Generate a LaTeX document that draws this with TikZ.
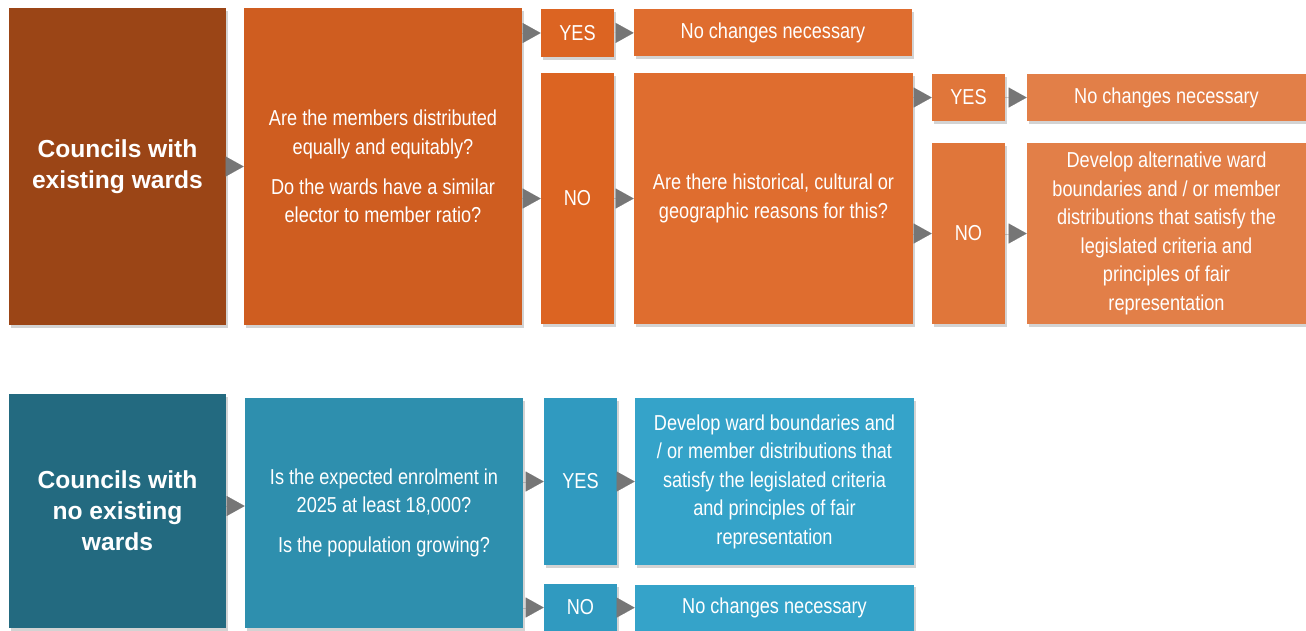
\documentclass[tikz,border=0pt]{standalone}
\usepackage{fontspec}
\setmainfont{Liberation Sans}
\newfontfamily\narrowfont[FakeStretch=0.84]{Liberation Sans}
\usetikzlibrary{arrows.meta}
\usetikzlibrary{shadows}
\usetikzlibrary{positioning}
\definecolor{obrown}{HTML}{9B4516}
\definecolor{oone}{HTML}{CF5D20}
\definecolor{otwo}{HTML}{DC6422}
\definecolor{othree}{HTML}{DF6D2F}
\definecolor{ofour}{HTML}{E0763A}
\definecolor{ofive}{HTML}{E27F48}
\definecolor{bdark}{HTML}{236A80}
\definecolor{bone}{HTML}{2E8FAE}
\definecolor{btwo}{HTML}{309AC0}
\definecolor{bthree}{HTML}{35A3C9}
\definecolor{agray}{HTML}{767676}
\newcommand{\px}{0.02cm}

\begin{document}
\begin{tikzpicture}[x=0.02cm, y=-0.02cm,
    box/.style={fill=#1, text=white, align=center, inner sep=0pt,
      font=\narrowfont\fontsize{12.3}{16.2}\selectfont,
      drop shadow={shadow xshift=1.2pt, shadow yshift=-1.5pt, opacity=0.35}},
    head/.style={font=\bfseries\fontsize{14}{17.6}\selectfont},
    boxsize/.style 2 args={minimum width=#1*\px, minimum height=#2*\px},
    flow/.style={agray, line width=0.01pt, -{Triangle[length=0.36cm, width=0.4cm]}}]
    \useasboundingbox (0, 0) rectangle (1306, 630);

    % councils with existing wards
    \node [box=obrown, head, boxsize={217}{317}] (exist) at (117.5, 166.5) {Councils with\\existing wards};
    \node [box=oone, boxsize={278}{317}] (members) at (383, 166.5)
      {Are the members distributed\\equally and equitably?\\[6.8pt]Do the wards have a similar\\elector to member ratio?};
    \node [box=otwo, boxsize={73}{48}] (yesone) at (577.5, 33) {YES};
    \node [box=otwo, boxsize={73}{251}] (noone) at (577.5, 198.5) {NO};
    \node [box=othree, boxsize={278}{47}] (keepone) at (773, 32.5) {No changes necessary};
    \node [box=othree, boxsize={279}{251}] (reasons) at (773.5, 198.5)
      {Are there historical, cultural or\\geographic reasons for this?};
    \node [box=ofour, boxsize={73}{47}] (yestwo) at (968.5, 97.5) {YES};
    \node [box=ofour, boxsize={73}{181}] (notwo) at (968.5, 233.5) {NO};
    \node [box=ofive, boxsize={279}{47}] (keeptwo) at (1166.5, 97.5) {No changes necessary};
    \node [box=ofive, boxsize={279}{181}] (develop) at (1166.5, 233.5)
      {Develop alternative ward\\boundaries and / or member\\distributions that satisfy the\\legislated criteria and\\principles of fair\\representation};

    \draw [flow] (exist) -- (members);
    \draw [flow] (members.east |- yesone) -- (yesone);
    \draw [flow] (members.east |- noone) -- (noone);
    \draw [flow] (yesone) -- (keepone);
    \draw [flow] (noone) -- (reasons);
    \draw [flow] (reasons.east |- yestwo) -- (yestwo);
    \draw [flow] (reasons.east |- notwo) -- (notwo);
    \draw [flow] (yestwo) -- (keeptwo);
    \draw [flow] (notwo) -- (develop);

    % councils with no existing wards
    \node [box=bdark, head, boxsize={217}{234}] (noexist) at (117.5, 511) {Councils with\\no existing\\wards};
    \node [box=bone, boxsize={278}{230}] (enrol) at (384, 513)
      {Is the expected enrolment in\\2025 at least 18,000?\\[6.5pt]Is the population growing?};
    \node [box=btwo, boxsize={73}{167}] (yesthree) at (580.5, 481.5) {YES};
    \node [box=btwo, boxsize={73}{47}] (nothree) at (580.5, 607.5) {NO};
    \node [box=bthree, boxsize={279}{167}] (wardsnew) at (774.5, 481.5)
      {Develop ward boundaries and\\/ or member distributions that\\satisfy the legislated criteria\\and principles of fair\\representation};
    \node [box=bthree, boxsize={279}{47}] (keepthree) at (774.5, 608) {No changes necessary};

    \draw [flow] (noexist.east |- 0, 506) -- (enrol.west |- 0, 506);
    \draw [flow] (enrol.east |- yesthree) -- (yesthree);
    \draw [flow] (enrol.east |- nothree) -- (nothree);
    \draw [flow] (yesthree) -- (wardsnew);
    \draw [flow] (nothree) -- (keepthree);
  \end{tikzpicture}
\end{document}
